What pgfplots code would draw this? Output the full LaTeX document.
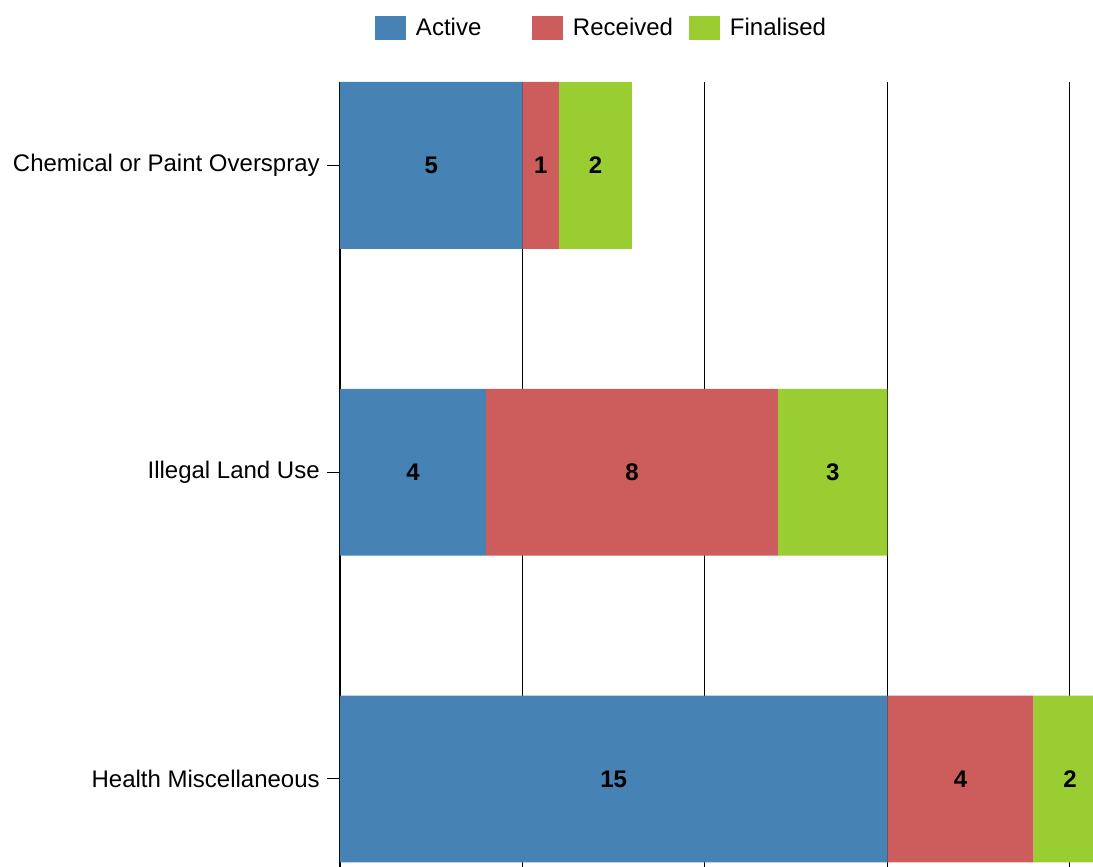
\documentclass[border=0pt]{standalone}
\usepackage{fontspec}
\setmainfont{Liberation Sans}
\usepackage{pgfplots}
\usepackage{pgfplotstable}
\pgfplotsset{compat=1.18}

\definecolor{cActive}{HTML}{4682B4}
\definecolor{cReceived}{HTML}{CD5C5C}
\definecolor{cFinal}{HTML}{9ACD32}

% one row per category, top to bottom
\pgfplotstableread{
pos active received finalised
0   5      1        2
1   4      8        3
2   15     4        2
}\counts

% segment label (stacked bars already put it mid-segment)
\pgfplotsset{
  seglabel/.style={
    visualization depends on={\thisrow{#1}\as\val},
    nodes near coords={\pgfmathprintnumber[assume math mode=true]{\val}},
    every node near coord/.style={text=black, anchor=center,
      font=\bfseries\fontsize{18}{21}\selectfont},
  },
}

\begin{document}
\begin{tikzpicture}
\begin{axis}[
  name=ax, at={(0,0)}, anchor=south west,
  scale only axis,
  width=588.56pt, height=588.75pt,
  xbar stacked, bar width=0.544,
  xmin=0, xmax=21.5,
  ymin=-0.272, ymax=2.287, y dir=reverse,
  ytick={0,1,2},
  yticklabels={Chemical or Paint Overspray, Illegal Land Use, Health Miscellaneous},
  xtick={0,5,10,15,20}, xticklabels={},
  xmajorgrids, grid style={black, line width=0.75pt},
  axis x line*=bottom, axis y line*=left,
  x axis line style={draw=none},
  y axis line style={-, black, line width=1.5pt},
  tick align=outside, major tick length=9.75pt,
  x tick style={draw=none},
  y tick style={black, line width=0.75pt},
  yticklabel style={font=\fontsize{18}{21}\selectfont, inner sep=0pt, xshift=-5.25pt},
  legend columns=3,
  legend style={at={(0.0446,1.0688)}, anchor=west, draw=none, fill=none,
    inner sep=0pt, outer sep=0pt,
    nodes={font=\fontsize{18}{21}\selectfont, text width=87pt, align=left, inner sep=0pt},
    /tikz/every odd column/.style={column sep=7.5pt}},
  legend image code/.code={\fill[#1] (0pt,-9pt) rectangle (23.25pt,9pt);},
]
\addplot[fill=cActive, draw=none, seglabel=active]
  table[x=active, y=pos]{\counts};
\addplot[fill=cReceived, draw=none, seglabel=received]
  table[x=received, y=pos]{\counts};
\addplot[fill=cFinal, draw=none, seglabel=finalised]
  table[x=finalised, y=pos]{\counts};
\legend{Active,Received,Finalised}
\end{axis}
\pgfresetboundingbox
\path (-255pt,0pt) rectangle (564.75pt,650.25pt);
\end{tikzpicture}
\end{document}
